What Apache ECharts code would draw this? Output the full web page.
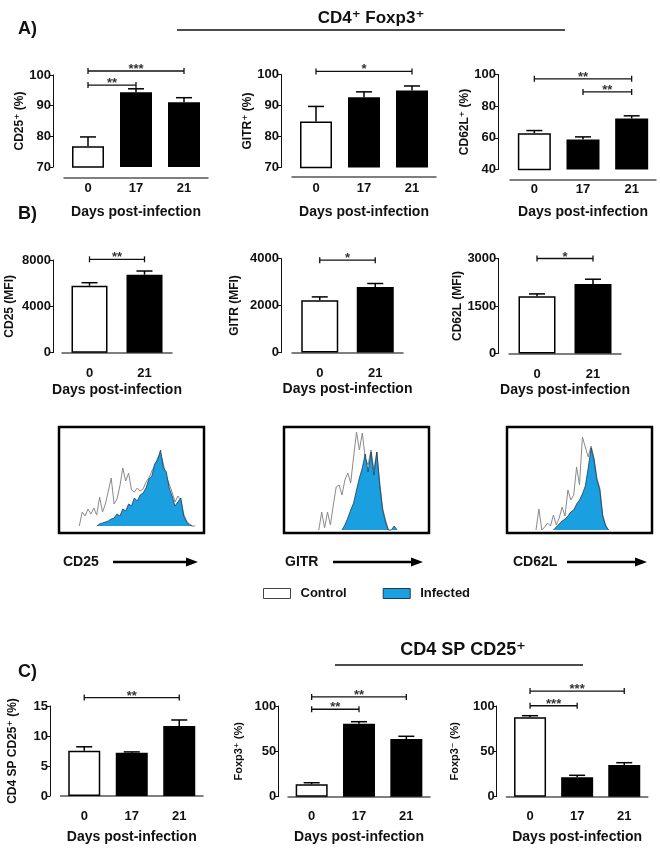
<!DOCTYPE html>
<html><head><meta charset="utf-8">
<script src="https://cdn.jsdelivr.net/npm/echarts@6/dist/echarts.min.js"></script>
<style>html,body{margin:0;padding:0;background:#fff}#c{width:660px;height:848px}</style>
</head><body><div id="c"></div>
<script>
const F = '"Liberation Sans", Arial, "DejaVu Sans", sans-serif';

// ---- categories / tick labels ----
const daysA = ['0', '17', '21'];
const daysB = ['0', '21'];
const xTitle = 'Days post-infection';

// ---- Panel A: % of CD4+ Foxp3+ cells ----
const cd25Pct = [76.8, 94.4, 91.1];
const cd25PctErr = [3.0, 1.1, 1.5];
const gitrPct = [84.8, 92.7, 94.8];
const gitrPctErr = [4.9, 1.7, 1.5];
const cd62lPct = [62.9, 59.0, 72.2];
const cd62lPctErr = [1.7, 1.6, 1.7];

// ---- Panel B: MFI ----
const cd25Mfi = [5780, 6730];
const cd25MfiErr = [260, 320];
const gitrMfi = [2226, 2791];
const gitrMfiErr = [140, 145];
const cd62lMfi = [1809, 2198];
const cd62lMfiErr = [73, 148];

// ---- Panel C: CD4 SP CD25+ ----
const cd4spCd25 = [7.55, 7.2, 11.67];
const cd4spCd25Err = [0.65, 0.15, 1.0];
const foxp3Pos = [13.7, 80.5, 63.6];
const foxp3PosErr = [1.7, 2.2, 3.0];
const foxp3Neg = [87.5, 21.4, 35.0];
const foxp3NegErr = [1.8, 2.2, 2.5];

// ---- significance brackets: [from category, to category, height, stars] ----
const sigA1 = [[0, 2, 101.3, '***'], [0, 1, 96.7, '**']];
const sigA2 = [[0, 2, 101, '*']];
const sigA3 = [[0, 2, 97.3, '**'], [1, 2, 89, '**']];
const sigB1 = [[0, 1, 8060, '**']];
const sigB2 = [[0, 1, 3930, '*']];
const sigB3 = [[0, 1, 3000, '*']];
const sigC1 = [[0, 2, 16.4, '**']];
const sigC2 = [[0, 2, 110, '**'], [0, 1, 96.4, '**']];
const sigC3 = [[0, 2, 116.5, '***'], [0, 1, 100.3, '***']];

// ---- flow histograms (counts per channel bin, first bin index given) ----
const histLabels = ['CD25', 'GITR', 'CD62L'];
const cd25CtrlStart = 7;
const cd25Ctrl = [0,14,10,17,12,18,11,29,14,22,35,48,22,27,40,58,45,53,36,34,38,35,37,44,48,55,60,68,73,62,50,42,34,24,30,26,12,5,2,0,0];
const cd25InfStart = 13;
const cd25Inf = [0,2,3,4,5,7,8,12,10,17,15,22,20,28,25,31,33,38,47,50,62,66,76,58,54,38,30,20,24,28,10,4,1,0];
const gitrCtrlStart = 12;
const gitrCtrl = [0,18,2,18,5,25,43,45,35,50,57,47,73,98,80,97,72,65,80,60,78,48,22,10,0];
const gitrInfStart = 20;
const gitrInf = [0,5,12,20,27,40,52,62,76,58,78,55,78,45,20,8,0,0,4,0];
const cd62lCtrlStart = 10;
const cd62lCtrl = [0,21,0,3,7,4,15,5,12,23,14,40,30,35,63,45,93,83,73,84,72,52,42,15,5,0];
const cd62lInfStart = 16;
const cd62lInf = [0,3,6,9,11,14,18,20,26,30,36,44,62,82,70,50,40,14,4,0];

const INF_BLUE = '#1a9fe0';
const INF_EDGE = '#1d3b52';

const barPanels = [
  {cats: daysA, mean: cd25Pct, err: cd25PctErr, sig: sigA1, name: 'CD25⁺ (%)', min: 70, max: 100, interval: 10,
   grid: {left: 64, top: 75, width: 144, height: 92}, yOff: 11, xOff: 11, nameGap: 25, barW: 32, lm: 4, xGap: 27, nfs: 12},
  {cats: daysA, mean: gitrPct, err: gitrPctErr, sig: sigA2, name: 'GITR⁺ (%)', min: 70, max: 100, interval: 10,
   grid: {left: 292, top: 74.5, width: 144, height: 93}, yOff: 11, xOff: 9.5, nameGap: 25, barW: 32, lm: 5, xGap: 28, nfs: 12},
  {cats: daysA, mean: cd62lPct, err: cd62lPctErr, sig: sigA3, name: 'CD62L⁺ (%)', min: 40, max: 100, interval: 20,
   grid: {left: 510, top: 74.5, width: 146, height: 95}, yOff: 12, xOff: 10, nameGap: 27, barW: 33, lm: 3, xGap: 26, nfs: 12},
  {cats: daysB, mean: cd25Mfi, err: cd25MfiErr, sig: sigB1, name: 'CD25 (MFI)', min: 0, max: 8000, interval: 4000,
   grid: {left: 62, top: 260, width: 110, height: 92.7}, yOff: 9, xOff: 10, nameGap: 37, barW: 36, lm: 4, xGap: 20, nfs: 12},
  {cats: daysB, mean: gitrMfi, err: gitrMfiErr, sig: sigB2, name: 'GITR (MFI)', min: 0, max: 4000, interval: 2000,
   grid: {left: 292, top: 258.5, width: 111, height: 94}, yOff: 11, xOff: 10, nameGap: 40, barW: 37, lm: 4, xGap: 20, nfs: 12},
  {cats: daysB, mean: cd62lMfi, err: cd62lMfiErr, sig: sigB3, name: 'CD62L (MFI)', min: 0, max: 3000, interval: 1500,
   grid: {left: 509, top: 258.5, width: 112, height: 95}, yOff: 10.7, xOff: 10, nameGap: 35, barW: 37, lm: 4, xGap: 20, nfs: 12},
  {cats: daysA, mean: cd4spCd25, err: cd4spCd25Err, sig: sigC1, name: 'CD4 SP CD25⁺ (%)', min: 0, max: 15, interval: 5,
   grid: {left: 60.5, top: 706, width: 142.5, height: 90}, yOff: 10.5, xOff: 10.7, nameGap: 31, barW: 32, lm: 3, xGap: 23, nfs: 12},
  {cats: daysA, mean: foxp3Pos, err: foxp3PosErr, sig: sigC2, name: 'Foxp3⁺ (%)', min: 0, max: 100, interval: 50,
   grid: {left: 288, top: 706, width: 142, height: 90.7}, yOff: 9.8, xOff: 10, nameGap: 34, barW: 32, lm: 3, xGap: 23, nfs: 11},
  {cats: daysA, mean: foxp3Neg, err: foxp3NegErr, sig: sigC3, name: 'Foxp3⁻ (%)', min: 0, max: 100, interval: 50,
   grid: {left: 506.5, top: 706, width: 141.3, height: 90.7}, yOff: 9.8, xOff: 10.6, nameGap: 36, barW: 32, lm: 3, xGap: 23, nfs: 11}
];

const hists = [
  {ctrl: cd25Ctrl, ctrlStart: cd25CtrlStart, inf: cd25Inf, infStart: cd25InfStart, left: 59, yMin: -7, yMax: 99},
  {ctrl: gitrCtrl, ctrlStart: gitrCtrlStart, inf: gitrInf, infStart: gitrInfStart, left: 284, yMin: -3, yMax: 103},
  {ctrl: cd62lCtrl, ctrlStart: cd62lCtrlStart, inf: cd62lInf, infStart: cd62lInfStart, left: 507, yMin: -3, yMax: 103}
];

const grids = [], xAxes = [], yAxes = [], series = [];
const txt = (size) => ({fontFamily: F, fontWeight: 'bold', fontSize: size, color: '#111'});

barPanels.forEach((p, k) => {
  grids.push(Object.assign({containLabel: false}, p.grid));
  xAxes.push({
    gridIndex: k, type: 'category', data: p.cats, offset: p.xOff,
    axisLine: {lineStyle: {color: '#555', width: 1.5}}, axisTick: {show: false},
    axisLabel: Object.assign({margin: p.lm}, txt(13)),
    name: xTitle, nameLocation: 'middle', nameGap: p.xGap, nameTextStyle: txt(14)
  });
  yAxes.push({
    gridIndex: k, type: 'value', min: p.min, max: p.max, interval: p.interval, offset: p.yOff,
    axisLine: {show: true, lineStyle: {color: '#111', width: 1}},
    axisTick: {show: true, length: 4, lineStyle: {color: '#111', width: 1}},
    axisLabel: Object.assign({margin: 2, formatter: v => String(v)}, txt(13)),
    splitLine: {show: false},
    name: p.name, nameLocation: 'middle', nameRotate: 90, nameGap: p.nameGap, nameTextStyle: txt(p.nfs)
  });
  series.push({
    type: 'bar', xAxisIndex: k, yAxisIndex: k, barWidth: p.barW, silent: true,
    data: p.mean.map((v, i) => ({value: v,
      itemStyle: i === 0 ? {color: '#fff', borderColor: '#000', borderWidth: 1.5} : {color: '#000'}}))
  });
  series.push({
    type: 'custom', xAxisIndex: k, yAxisIndex: k, silent: true, clip: false, z: 5,
    data: p.mean.map((v, i) => [i, v, p.err[i]]),
    renderItem: (params, api) => {
      const b = api.coord([api.value(0), api.value(1)]);
      const t = api.coord([api.value(0), api.value(1) + api.value(2)]);
      const st = {stroke: '#000', lineWidth: 1.5};
      return {type: 'group', children: [
        {type: 'line', shape: {x1: b[0], y1: b[1], x2: t[0], y2: t[1]}, style: st},
        {type: 'line', shape: {x1: t[0] - 8, y1: t[1], x2: t[0] + 8, y2: t[1]}, style: st}
      ]};
    }
  });
  series.push({
    type: 'custom', xAxisIndex: k, yAxisIndex: k, silent: true, clip: false, z: 6,
    data: p.sig.map(s => [s[0], s[2], s[1]]),
    renderItem: (params, api) => {
      const a = api.coord([api.value(0), api.value(1)]);
      const b = api.coord([api.value(2), api.value(1)]);
      const st = {stroke: '#111', lineWidth: 1.3};
      return {type: 'group', children: [
        {type: 'line', shape: {x1: a[0], y1: a[1], x2: b[0], y2: b[1]}, style: st},
        {type: 'line', shape: {x1: a[0], y1: a[1] - 3, x2: a[0], y2: a[1] + 3}, style: st},
        {type: 'line', shape: {x1: b[0], y1: b[1] - 3, x2: b[0], y2: b[1] + 3}, style: st},
        {type: 'text', style: {text: p.sig[params.dataIndex][3], x: (a[0] + b[0]) / 2, y: a[1] + 5,
          align: 'center', verticalAlign: 'bottom', font: 'bold 13px ' + F, fill: '#333'}}
      ]};
    }
  });
});

hists.forEach((h, j) => {
  const k = barPanels.length + j;
  grids.push({left: h.left, top: 427, width: 145, height: 106, show: true, borderColor: '#000', borderWidth: 2.5, backgroundColor: '#fff'});
  xAxes.push({gridIndex: k, type: 'value', min: 0, max: 50, show: false});
  yAxes.push({gridIndex: k, type: 'value', min: h.yMin, max: h.yMax, show: false});
  series.push({
    type: 'line', name: 'Control', xAxisIndex: k, yAxisIndex: k, showSymbol: false, silent: true, z: 2,
    data: h.ctrl.map((v, i) => [h.ctrlStart + i, v]),
    lineStyle: {color: '#8a8a8a', width: 1}, itemStyle: {color: '#fff', borderColor: '#444'}
  });
  series.push({
    type: 'line', name: 'Infected', xAxisIndex: k, yAxisIndex: k, showSymbol: false, silent: true, z: 3,
    data: h.inf.map((v, i) => [h.infStart + i, v]),
    lineStyle: {color: INF_EDGE, width: 0.8}, areaStyle: {color: INF_BLUE, opacity: 1},
    itemStyle: {color: INF_BLUE}
  });
});

const graphics = [
  {type: 'text', left: 18, top: 20, style: {text: 'A)', font: 'bold 18px ' + F, fill: '#111'}},
  {type: 'text', left: 18, top: 205, style: {text: 'B)', font: 'bold 18px ' + F, fill: '#111'}},
  {type: 'text', left: 18, top: 663, style: {text: 'C)', font: 'bold 18px ' + F, fill: '#111'}},
  {type: 'text', x: 371, y: 18, style: {text: 'CD4⁺ Foxp3⁺', font: 'bold 17px ' + F, fill: '#111', align: 'center', verticalAlign: 'middle'}},
  {type: 'line', shape: {x1: 177, y1: 30, x2: 565, y2: 30}, style: {stroke: '#111', lineWidth: 1.5}},
  {type: 'text', x: 463, y: 650, style: {text: 'CD4 SP CD25⁺', font: 'bold 18px ' + F, fill: '#111', align: 'center', verticalAlign: 'middle'}},
  {type: 'line', shape: {x1: 335, y1: 665, x2: 583, y2: 665}, style: {stroke: '#111', lineWidth: 1.5}}
];
const arrows = [[63, 113, 198], [285, 333, 423], [513, 567, 647]];
arrows.forEach((a, i) => {
  graphics.push({type: 'text', x: a[0], y: 562, style: {text: histLabels[i], font: 'bold 14px ' + F, fill: '#111', verticalAlign: 'middle'}});
  graphics.push({type: 'line', shape: {x1: a[1], y1: 562, x2: a[2] - 8, y2: 562}, style: {stroke: '#000', lineWidth: 2.5}});
  graphics.push({type: 'polygon', shape: {points: [[a[2] - 12, 557.5], [a[2], 562], [a[2] - 12, 566.5]]}, style: {fill: '#000'}});
});

const chart = echarts.init(document.getElementById('c'), null, {renderer: 'canvas'});
chart.setOption({
  backgroundColor: '#fff',
  animation: false,
  legend: {
    left: 263, top: 587, padding: 0, itemWidth: 27, itemHeight: 10, itemGap: 36, selectedMode: false,
    data: [
      {name: 'Control', icon: 'rect', itemStyle: {color: '#fff', borderColor: '#444', borderWidth: 1}, lineStyle: {width: 0}},
      {name: 'Infected', icon: 'rect', itemStyle: {color: INF_BLUE, borderColor: INF_EDGE, borderWidth: 1}, lineStyle: {width: 0}}
    ],
    textStyle: Object.assign({padding: [0, 0, 0, 5]}, txt(13))
  },
  grid: grids, xAxis: xAxes, yAxis: yAxes, series: series, graphic: graphics
});
</script></body></html>
